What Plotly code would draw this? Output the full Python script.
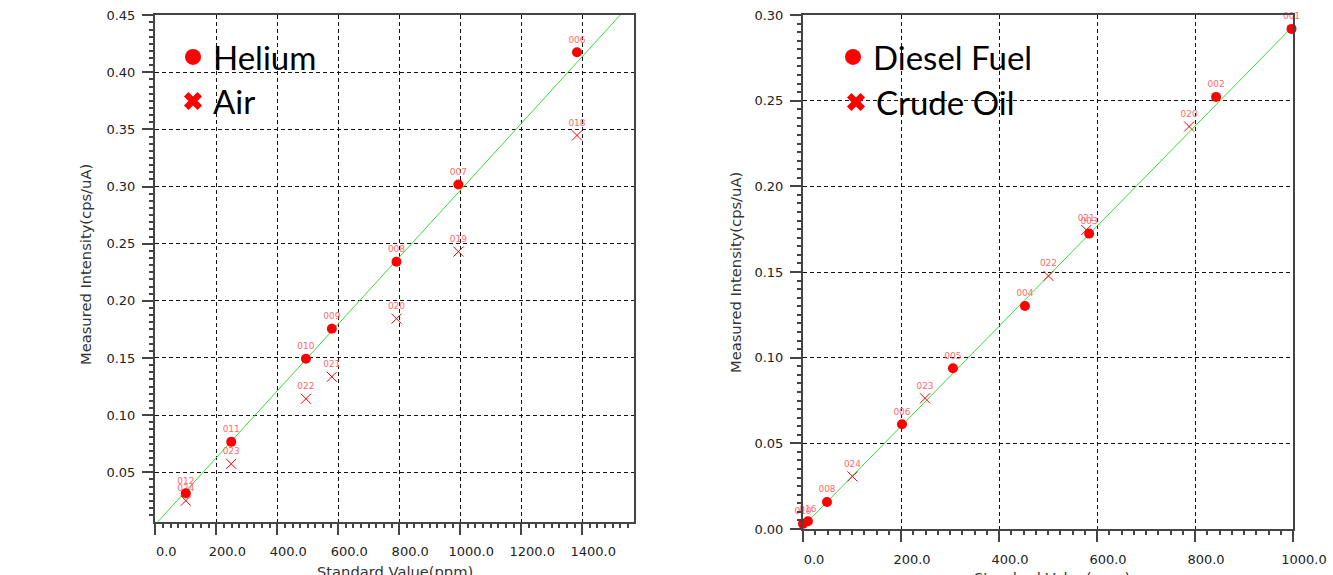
import plotly.graph_objects as go

# ---------------- Left chart: Helium vs Air ----------------
helium_x = [100, 249, 494, 579, 791, 994, 1383]
helium_y = [0.0316, 0.0766, 0.1493, 0.1756, 0.2343, 0.3018, 0.4176]
helium_labels = ["012", "011", "010", "009", "008", "007", "006"]

air_x = [100, 249, 494, 579, 791, 994, 1383]
air_y = [0.0251, 0.0573, 0.1143, 0.1335, 0.1844, 0.2431, 0.3448]
air_labels = ["024", "023", "022", "021", "020", "019", "018"]

left_fit_x = [0, 1570]
left_fit_y = [0.0042, 0.4634]

left_x_ticks = [0, 200, 400, 600, 800, 1000, 1200, 1400]
left_x_mid_ticks = [100, 300, 500, 700, 900, 1100, 1300, 1500]
left_y_ticks = [0.05, 0.10, 0.15, 0.20, 0.25, 0.30, 0.35, 0.40, 0.45]
left_y_mid_ticks = [0.025, 0.075, 0.125, 0.175, 0.225, 0.275, 0.325, 0.375, 0.425]

# ---------------- Right chart: Diesel Fuel vs Crude Oil ----------------
diesel_x = [0, 10, 49, 202, 306, 453, 584, 843, 997]
diesel_y = [0.0030, 0.0045, 0.0158, 0.0611, 0.0938, 0.1302, 0.1724, 0.2522, 0.2919]
diesel_labels = ["010", "016", "008", "006", "005", "004", "003", "002", "001"]

crude_x = [101, 249, 501, 578, 788]
crude_y = [0.0307, 0.0763, 0.1477, 0.1745, 0.2349]
crude_labels = ["024", "023", "022", "021", "020"]

right_fit_x = [0, 1000]
right_fit_y = [0.0015, 0.2935]

right_x_ticks = [0, 200, 400, 600, 800, 1000]
right_x_mid_ticks = [100, 300, 500, 700, 900]
right_y_ticks = [0.00, 0.05, 0.10, 0.15, 0.20, 0.25, 0.30]
right_y_mid_ticks = [0.025, 0.075, 0.125, 0.175, 0.225, 0.275]

W, H = 1333, 575
RED = "#ff0000"
LABEL_RED = "#ff6a6a"
GREEN = "#33dd33"
AXIS = "#444444"
TICKFONT = dict(family="DejaVu Sans", size=13, color="#222222")
TITLEFONT = dict(family="DejaVu Sans", size=14.7, color="#333333")
LEGFONT = dict(family="Lato", size=33, color="black")

LEFT_X_RANGE = [-1, 1570]
LEFT_Y_RANGE = [0.0067, 0.4502]
RIGHT_X_RANGE = [0, 1000]
RIGHT_Y_RANGE = [0, 0.30]

fig = go.Figure()


def add_series(xs, ys, labels, kind, xa, ya):
    if kind == "dot":
        marker = dict(symbol="circle", size=10, color=RED)
    else:
        marker = dict(symbol="x-thin-open", size=10, color=RED,
                      line=dict(color=RED, width=1))
    fig.add_trace(go.Scatter(
        x=xs, y=ys, text=labels, mode="markers+text",
        textposition="top center",
        textfont=dict(family="DejaVu Sans", size=9, color=LABEL_RED),
        marker=marker, showlegend=False, cliponaxis=False,
        xaxis=xa, yaxis=ya, hoverinfo="skip"))


def add_fit(xs, ys, xa, ya):
    fig.add_trace(go.Scatter(
        x=xs, y=ys, mode="lines", line=dict(color=GREEN, width=1),
        showlegend=False, xaxis=xa, yaxis=ya, hoverinfo="skip"))


def add_legend_key(name, kind, legend, xa, ya):
    sym = "circle" if kind == "dot" else "x"
    fig.add_trace(go.Scatter(
        x=[None], y=[None], mode="markers", name=name,
        marker=dict(symbol=sym, size=16, color=RED, line=dict(width=0)),
        legend=legend, xaxis=xa, yaxis=ya))


# left
add_fit(left_fit_x, left_fit_y, "x", "y")
add_series(air_x, air_y, air_labels, "x", "x", "y")
add_series(helium_x, helium_y, helium_labels, "dot", "x", "y")
add_legend_key("Helium", "dot", "legend", "x", "y")
add_legend_key("Air", "x", "legend3", "x", "y")

# right
add_fit(right_fit_x, right_fit_y, "x2", "y2")
add_series(crude_x, crude_y, crude_labels, "x", "x2", "y2")
add_series(diesel_x, diesel_y, diesel_labels, "dot", "x2", "y2")
add_legend_key("Diesel Fuel", "dot", "legend2", "x2", "y2")
add_legend_key("Crude Oil", "x", "legend4", "x2", "y2")


def axis_common():
    return dict(
        showline=True, linecolor=AXIS, linewidth=2, mirror=True,
        ticks="outside", ticklen=11, tickwidth=1.5, tickcolor=AXIS,
        showgrid=True, gridcolor="#111111", gridwidth=1.3, griddash="4px,3px",
        zeroline=False, tickfont=TICKFONT, automargin=False,
    )


def mid_axis(base, rng, vals, side):
    return dict(overlaying=base, range=rng, tickvals=vals, ticks="outside",
                ticklen=7, tickwidth=1.2, tickcolor=AXIS, showticklabels=False,
                showgrid=False, showline=False, zeroline=False, side=side,
                automargin=False)


def px_x(p):
    return p / W


def px_y(p):
    return 1 - p / H


def legend_box(xp, yp):
    return dict(x=px_x(xp), y=px_y(yp), xanchor="left", yanchor="top",
                font=LEGFONT, bgcolor="rgba(0,0,0,0)", itemsizing="trace",
                tracegroupgap=0)


def title_ann(text, xp, yp, angle):
    return dict(text=text, x=px_x(xp), y=px_y(yp), xref="paper", yref="paper",
                xanchor="center", yanchor="middle", showarrow=False,
                textangle=angle, font=TITLEFONT)


fig.update_layout(
    width=W, height=H, autosize=False,
    margin=dict(l=0, r=0, t=0, b=0, pad=0, autoexpand=False),
    paper_bgcolor="white", plot_bgcolor="white",
    xaxis=dict(**axis_common(), domain=[px_x(155), px_x(634)], range=LEFT_X_RANGE,
               tickvals=left_x_ticks, tickformat=".1f", ticklabelshift=11,
               ticklabelstandoff=6, anchor="y",
               minor=dict(dtick=25, tick0=0, ticks="outside", ticklen=4,
                          tickcolor=AXIS, showgrid=False)),
    yaxis=dict(**axis_common(), domain=[px_y(521.7), px_y(15)], range=LEFT_Y_RANGE,
               tickvals=left_y_ticks, tickformat=".2f", anchor="x",
               ticklabelstandoff=4,
               minor=dict(dtick=0.00625, tick0=0, ticks="outside", ticklen=4,
                          tickcolor=AXIS, showgrid=False)),
    xaxis2=dict(**axis_common(), domain=[px_x(803), px_x(1293)], range=RIGHT_X_RANGE,
                tickvals=right_x_ticks, tickformat=".1f", ticklabelshift=11,
                ticklabelstandoff=6, anchor="y2",
                minor=dict(dtick=25, tick0=0, ticks="outside", ticklen=4,
                           tickcolor=AXIS, showgrid=False)),
    yaxis2=dict(**axis_common(), domain=[px_y(529), px_y(15)], range=RIGHT_Y_RANGE,
                tickvals=right_y_ticks, tickformat=".2f", anchor="x2",
                ticklabelstandoff=4,
                minor=dict(dtick=0.005, tick0=0, ticks="outside", ticklen=4,
                           tickcolor=AXIS, showgrid=False)),
    xaxis3=dict(**mid_axis("x", LEFT_X_RANGE, left_x_mid_ticks, "bottom"), anchor="y"),
    yaxis3=dict(**mid_axis("y", LEFT_Y_RANGE, left_y_mid_ticks, "left"), anchor="x"),
    xaxis4=dict(**mid_axis("x2", RIGHT_X_RANGE, right_x_mid_ticks, "bottom"), anchor="y2"),
    yaxis4=dict(**mid_axis("y2", RIGHT_Y_RANGE, right_y_mid_ticks, "left"), anchor="x2"),
    legend=legend_box(173, 29),
    legend3=legend_box(173, 73),
    legend2=legend_box(833, 29),
    legend4=legend_box(836, 74),
    annotations=[
        title_ann("Measured Intensity(cps/uA)", 85, 265, -90),
        title_ann("Measured Intensity(cps/uA)", 735, 273, -90),
        title_ann("Standard Value(ppm)", 395, 571, 0),
        title_ann("Standard Value(ppm)", 1052, 577, 0),
    ],
)

fig.write_html(
    "out.html",
    config={"responsive": False, "displayModeBar": False},
    post_script="document.body.style.margin='0';document.body.style.overflow='hidden';",
)
